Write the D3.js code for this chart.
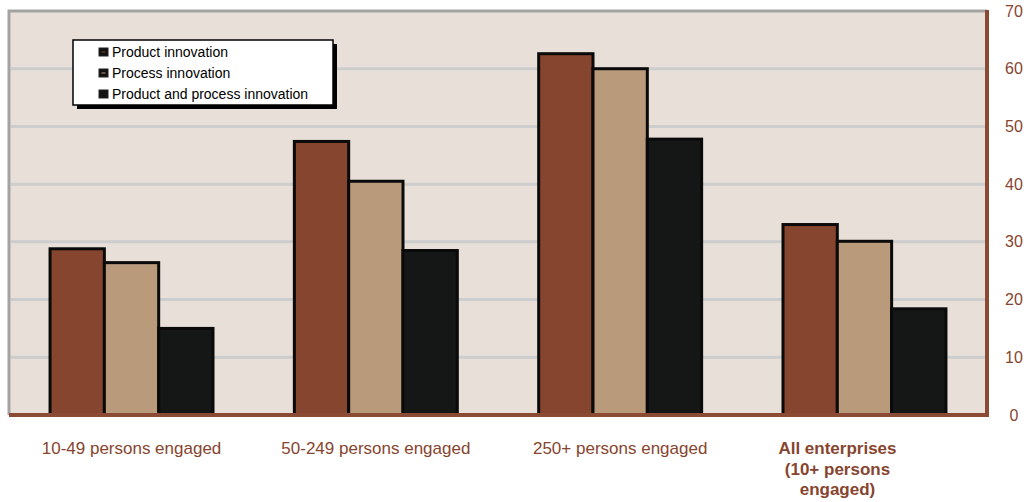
<!DOCTYPE html>
<html>
<head>
<meta charset="utf-8">
<script src="https://cdn.jsdelivr.net/npm/d3@7"></script>
<style>
  body { margin: 0; background: #fff; }
  svg { font-family: "Liberation Sans", Arial, sans-serif; }
</style>
</head>
<body>
<div id="chart"></div>
<script>
const categories = ["10-49 persons engaged", "50-249 persons engaged", "250+ persons engaged", "All enterprises (10+ persons engaged)"];
const seriesNames = ["Product innovation", "Process innovation", "Product and process innovation"];
const productValues = [28.8, 47.4, 62.6, 33.0];
const processValues = [26.4, 40.5, 60.0, 30.1];
const bothValues = [15.0, 28.5, 47.8, 18.4];
const yTicks = [0, 10, 20, 30, 40, 50, 60, 70];
const colors = ["#85452f", "#b99a7b", "#151716"];

const width = 1027, height = 502;
const plot = { left: 9, right: 987, top: 11, bottom: 415 };
const textColor = "#87452f";

const svg = d3.select('#chart')
    .append('svg')
    .attr('width', width)
    .attr('height', height);

const x = d3.scaleBand()
    .domain(categories)
    .range([plot.left, plot.right])
    .paddingInner(0.333)
    .paddingOuter(0.168);

const xs = d3.scaleBand()
    .domain(seriesNames)
    .range([0, x.bandwidth()]);

const y = d3.scaleLinear()
    .domain([0, 70])
    .range([plot.bottom, plot.top]);

// plot background with grey top/left frame
svg.append('rect')
    .attr('x', plot.left)
    .attr('y', plot.top)
    .attr('width', plot.right - plot.left)
    .attr('height', plot.bottom - plot.top)
    .attr('fill', '#e8e0d8');
svg.append('path')
    .attr('d', `M${plot.left},${plot.bottom}V${plot.top}H${plot.right}`)
    .attr('fill', 'none')
    .attr('stroke', '#a3a3a3')
    .attr('stroke-width', 3);

// gridlines
svg.selectAll('.grid')
    .data(yTicks.filter(d => d > 0 && d < 70))
    .join('line')
    .attr('class', 'grid')
    .attr('x1', plot.left + 2)
    .attr('x2', plot.right)
    .attr('y1', d => y(d))
    .attr('y2', d => y(d))
    .attr('stroke', '#cdcdcd')
    .attr('stroke-width', 3);

// bars
const data = categories.map((c, i) => ({
    cat: c,
    vals: [productValues[i], processValues[i], bothValues[i]]
}));

const groups = svg.selectAll('.grp')
    .data(data)
    .join('g')
    .attr('class', 'grp')
    .attr('transform', d => `translate(${x(d.cat)},0)`);

groups.selectAll('rect')
    .data(d => d.vals.map((v, j) => ({ v, s: seriesNames[j], j })))
    .join('rect')
    .attr('x', d => xs(d.s))
    .attr('y', d => y(d.v))
    .attr('width', xs.bandwidth())
    .attr('height', d => y(0) - y(d.v))
    .attr('fill', d => colors[d.j])
    .attr('stroke', '#0a0a0a')
    .attr('stroke-width', 3);

// right axis
const yAxis = svg.append('g')
    .attr('transform', `translate(${plot.right},0)`);
yAxis.append('line')
    .attr('x1', 0).attr('x2', 0)
    .attr('y1', plot.top - 1).attr('y2', plot.bottom + 2)
    .attr('stroke', '#8b4a33')
    .attr('stroke-width', 4);
yAxis.selectAll('text')
    .data(yTicks)
    .join('text')
    .attr('x', 27)
    .attr('y', d => y(d))
    .attr('dy', '0.35em')
    .attr('text-anchor', 'middle')
    .attr('fill', textColor)
    .style('font-size', '16px')
    .text(d => d);

// bottom axis
svg.append('line')
    .attr('x1', plot.left)
    .attr('x2', plot.right + 2)
    .attr('y1', plot.bottom)
    .attr('y2', plot.bottom)
    .attr('stroke', '#8b4a33')
    .attr('stroke-width', 4);

// category labels (the last one sits a little left of its band)
const labelLines = [
    ["10-49 persons engaged"],
    ["50-249 persons engaged"],
    ["250+ persons engaged"],
    ["All enterprises", "(10+ persons", "engaged)"]
];
const labelShift = [0, 0, 0, -27];
svg.selectAll('.xlabel')
    .data(categories)
    .join('text')
    .attr('class', 'xlabel')
    .attr('y', 454)
    .attr('text-anchor', 'middle')
    .attr('fill', textColor)
    .style('font-size', '17px')
    .style('font-weight', (d, i) => i === 3 ? 'bold' : 'normal')
    .each(function(d, i) {
        const t = d3.select(this);
        const cx = x(d) + x.bandwidth() / 2 + labelShift[i];
        labelLines[i].forEach((line, k) => {
            t.append('tspan')
                .attr('x', cx)
                .attr('dy', k === 0 ? 0 : 20.5)
                .text(line);
        });
    });

// legend
const legend = svg.append('g').attr('transform', 'translate(73,40)');
legend.append('rect')
    .attr('x', 4).attr('y', 4)
    .attr('width', 260).attr('height', 65)
    .attr('fill', '#000');
legend.append('rect')
    .attr('x', 0).attr('y', 0)
    .attr('width', 260).attr('height', 65)
    .attr('fill', '#fff')
    .attr('stroke', '#000')
    .attr('stroke-width', 1.5);
const items = legend.selectAll('.item')
    .data(seriesNames)
    .join('g')
    .attr('class', 'item')
    .attr('transform', (d, i) => `translate(26,${12 + i * 21})`);
items.append('rect')
    .attr('x', 0).attr('y', -4)
    .attr('width', 9).attr('height', 8)
    .attr('fill', '#111')
    .attr('stroke', '#222')
    .attr('stroke-width', 1);
items.append('rect')
    .attr('x', 2.5).attr('y', -0.5)
    .attr('width', 4).attr('height', 1)
    .attr('fill', (d, i) => colors[i]);
items.append('text')
    .attr('x', 13)
    .attr('y', 0)
    .attr('dy', '0.35em')
    .attr('fill', '#000')
    .style('font-size', '14px')
    .text(d => d);
</script>
</body>
</html>
